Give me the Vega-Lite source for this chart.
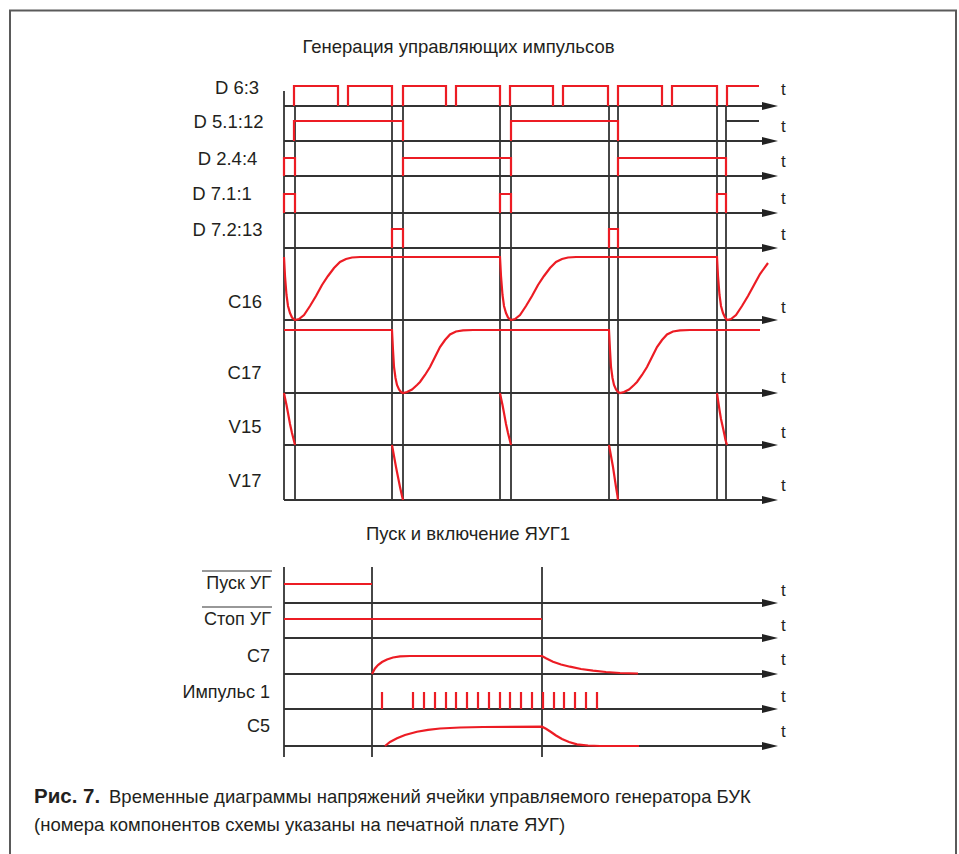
{
  "$schema": "https://vega.github.io/schema/vega-lite/v6.json",
  "width": 959,
  "height": 854,
  "autosize": {"type": "none"},
  "padding": 0,
  "background": "white",
  "config": {"view": {"stroke": null}},
  "datasets": {
    "frame": [{"x":10,"y":870},{"x":10,"y":10.5},{"x":956,"y":10.5},{"x":956,"y":870}],
    "rules": [
      {"x":284,"x2":768,"y":106,"y2":106},{"x":284,"x2":768,"y":141,"y2":141},{"x":284,"x2":768,"y":176,"y2":176},
      {"x":284,"x2":768,"y":213,"y2":213},{"x":284,"x2":768,"y":248,"y2":248},{"x":284,"x2":768,"y":320,"y2":320},
      {"x":284,"x2":768,"y":393,"y2":393},{"x":284,"x2":768,"y":445,"y2":445},{"x":284,"x2":768,"y":500,"y2":500},
      {"x":284,"x2":768,"y":603,"y2":603},{"x":284,"x2":768,"y":638,"y2":638},{"x":284,"x2":768,"y":674,"y2":674},
      {"x":284,"x2":768,"y":709,"y2":709},{"x":284,"x2":768,"y":746,"y2":746},
      {"x":284,"x2":284,"y":91,"y2":500},
      {"x":295,"x2":295,"y":106,"y2":500},{"x":392,"x2":392,"y":106,"y2":500},{"x":403,"x2":403,"y":106,"y2":500},
      {"x":500,"x2":500,"y":106,"y2":500},{"x":511,"x2":511,"y":106,"y2":500},{"x":609,"x2":609,"y":106,"y2":500},
      {"x":618,"x2":618,"y":106,"y2":500},{"x":717,"x2":717,"y":106,"y2":500},{"x":726,"x2":726,"y":106,"y2":500},
      {"x":726,"x2":759,"y":121,"y2":121},
      {"x":284,"x2":284,"y":567,"y2":757},{"x":372,"x2":372,"y":567,"y2":757},{"x":542,"x2":542,"y":567,"y2":757}
    ],
    "overlines": [{"x":202,"x2":272,"y":571,"y2":571},{"x":202,"x2":272,"y":607,"y2":607}],
    "arrows": [
      {"x":770,"y":106},{"x":770,"y":141},{"x":770,"y":176},{"x":770,"y":213},{"x":770,"y":248},
      {"x":770,"y":320},{"x":770,"y":393},{"x":770,"y":445},{"x":770,"y":500},
      {"x":770,"y":603},{"x":770,"y":638},{"x":770,"y":674},{"x":770,"y":709},{"x":770,"y":746}
    ],
    "spikes": [
      {"x":382,"y":709,"y2":692},{"x":413,"y":709,"y2":692},{"x":424,"y":709,"y2":692},{"x":435,"y":709,"y2":692},
      {"x":446,"y":709,"y2":692},{"x":456,"y":709,"y2":692},{"x":467,"y":709,"y2":692},{"x":478,"y":709,"y2":692},
      {"x":489,"y":709,"y2":692},{"x":500,"y":709,"y2":692},{"x":510,"y":709,"y2":692},{"x":521,"y":709,"y2":692},
      {"x":532,"y":709,"y2":692},{"x":543,"y":709,"y2":692},{"x":554,"y":709,"y2":692},{"x":564,"y":709,"y2":692},
      {"x":575,"y":709,"y2":692},{"x":586,"y":709,"y2":692},{"x":597,"y":709,"y2":692}
    ],
    "sig": [
      {"s":"d6a","x":294,"y":106},{"s":"d6a","x":294,"y":86},{"s":"d6a","x":338,"y":86},{"s":"d6a","x":338,"y":106},
      {"s":"d6b","x":348,"y":106},{"s":"d6b","x":348,"y":86},{"s":"d6b","x":392,"y":86},{"s":"d6b","x":392,"y":106},
      {"s":"d6c","x":403,"y":106},{"s":"d6c","x":403,"y":86},{"s":"d6c","x":446,"y":86},{"s":"d6c","x":446,"y":106},
      {"s":"d6d","x":456,"y":106},{"s":"d6d","x":456,"y":86},{"s":"d6d","x":500,"y":86},{"s":"d6d","x":500,"y":106},
      {"s":"d6e","x":510,"y":106},{"s":"d6e","x":510,"y":86},{"s":"d6e","x":553,"y":86},{"s":"d6e","x":553,"y":106},
      {"s":"d6f","x":563,"y":106},{"s":"d6f","x":563,"y":86},{"s":"d6f","x":608,"y":86},{"s":"d6f","x":608,"y":106},
      {"s":"d6g","x":618,"y":106},{"s":"d6g","x":618,"y":86},{"s":"d6g","x":662,"y":86},{"s":"d6g","x":662,"y":106},
      {"s":"d6h","x":672,"y":106},{"s":"d6h","x":672,"y":86},{"s":"d6h","x":717,"y":86},{"s":"d6h","x":717,"y":106},
      {"s":"d6i","x":727,"y":106},{"s":"d6i","x":727,"y":86},{"s":"d6i","x":759,"y":86},
      {"s":"d5a","x":294,"y":141},{"s":"d5a","x":294,"y":121},{"s":"d5a","x":403,"y":121},{"s":"d5a","x":403,"y":141},
      {"s":"d5b","x":511,"y":141},{"s":"d5b","x":511,"y":121},{"s":"d5b","x":618,"y":121},{"s":"d5b","x":618,"y":141},
      {"s":"d2a","x":284,"y":176},{"s":"d2a","x":284,"y":158},{"s":"d2a","x":295,"y":158},{"s":"d2a","x":295,"y":176},
      {"s":"d2b","x":403,"y":176},{"s":"d2b","x":403,"y":158},{"s":"d2b","x":511,"y":158},{"s":"d2b","x":511,"y":176},
      {"s":"d2c","x":618,"y":176},{"s":"d2c","x":618,"y":158},{"s":"d2c","x":726,"y":158},{"s":"d2c","x":726,"y":176},
      {"s":"d71a","x":284,"y":213},{"s":"d71a","x":284,"y":194},{"s":"d71a","x":295,"y":194},{"s":"d71a","x":295,"y":213},
      {"s":"d71b","x":500,"y":213},{"s":"d71b","x":500,"y":194},{"s":"d71b","x":511,"y":194},{"s":"d71b","x":511,"y":213},
      {"s":"d71c","x":717,"y":213},{"s":"d71c","x":717,"y":194},{"s":"d71c","x":726,"y":194},{"s":"d71c","x":726,"y":213},
      {"s":"d72a","x":392,"y":248},{"s":"d72a","x":392,"y":229},{"s":"d72a","x":403,"y":229},{"s":"d72a","x":403,"y":248},
      {"s":"d72b","x":609,"y":248},{"s":"d72b","x":609,"y":229},{"s":"d72b","x":618,"y":229},{"s":"d72b","x":618,"y":248},
      {"s":"c16","x":284,"y":257},{"s":"c16","x":285,"y":276},{"s":"c16","x":286.5,"y":295},{"s":"c16","x":288,"y":306},
      {"s":"c16","x":290,"y":313},{"s":"c16","x":292,"y":317.5},{"s":"c16","x":295,"y":320},{"s":"c16","x":299,"y":319},
      {"s":"c16","x":304,"y":315},{"s":"c16","x":310,"y":306},{"s":"c16","x":316,"y":296},{"s":"c16","x":322,"y":285},
      {"s":"c16","x":328,"y":276},{"s":"c16","x":334,"y":268},{"s":"c16","x":340,"y":262},{"s":"c16","x":346,"y":259},
      {"s":"c16","x":352,"y":257.5},{"s":"c16","x":360,"y":257},{"s":"c16","x":500,"y":257},{"s":"c16","x":501,"y":276},
      {"s":"c16","x":502.5,"y":295},{"s":"c16","x":504,"y":306},{"s":"c16","x":506,"y":313},{"s":"c16","x":508,"y":317.5},
      {"s":"c16","x":511,"y":320},{"s":"c16","x":515,"y":319},{"s":"c16","x":520,"y":315},{"s":"c16","x":526,"y":306},
      {"s":"c16","x":532,"y":296},{"s":"c16","x":538,"y":285},{"s":"c16","x":544,"y":276},{"s":"c16","x":550,"y":268},
      {"s":"c16","x":556,"y":262},{"s":"c16","x":562,"y":259},{"s":"c16","x":568,"y":257.5},{"s":"c16","x":576,"y":257},
      {"s":"c16","x":717,"y":257},{"s":"c16","x":718,"y":276},{"s":"c16","x":719.5,"y":295},{"s":"c16","x":721,"y":306},
      {"s":"c16","x":723,"y":313},{"s":"c16","x":725,"y":317.5},{"s":"c16","x":727,"y":320},{"s":"c16","x":731,"y":319},
      {"s":"c16","x":736,"y":315},{"s":"c16","x":742,"y":306},{"s":"c16","x":748,"y":296},{"s":"c16","x":754,"y":285},
      {"s":"c16","x":760,"y":274},{"s":"c16","x":768,"y":263},
      {"s":"c17","x":284,"y":330},{"s":"c17","x":392,"y":330},{"s":"c17","x":393,"y":350},{"s":"c17","x":394,"y":367},
      {"s":"c17","x":395.5,"y":378},{"s":"c17","x":397,"y":385},{"s":"c17","x":399,"y":389.5},{"s":"c17","x":401,"y":392},
      {"s":"c17","x":403,"y":393},{"s":"c17","x":407,"y":392},{"s":"c17","x":412,"y":389.5},{"s":"c17","x":417,"y":385},
      {"s":"c17","x":420,"y":382},{"s":"c17","x":425,"y":375},{"s":"c17","x":430,"y":367},{"s":"c17","x":435,"y":357},
      {"s":"c17","x":440,"y":347},{"s":"c17","x":445,"y":340},{"s":"c17","x":450,"y":334.5},{"s":"c17","x":456,"y":331.5},
      {"s":"c17","x":463,"y":330.3},{"s":"c17","x":473,"y":330},{"s":"c17","x":609,"y":330},{"s":"c17","x":610,"y":350},
      {"s":"c17","x":611,"y":367},{"s":"c17","x":612.5,"y":378},{"s":"c17","x":614,"y":385},{"s":"c17","x":616,"y":389.5},
      {"s":"c17","x":618,"y":392},{"s":"c17","x":620,"y":393},{"s":"c17","x":624,"y":392},{"s":"c17","x":629,"y":389.5},
      {"s":"c17","x":634,"y":385},{"s":"c17","x":637,"y":382},{"s":"c17","x":642,"y":375},{"s":"c17","x":647,"y":367},
      {"s":"c17","x":652,"y":357},{"s":"c17","x":657,"y":347},{"s":"c17","x":662,"y":340},{"s":"c17","x":667,"y":334.5},
      {"s":"c17","x":673,"y":331.5},{"s":"c17","x":680,"y":330.3},{"s":"c17","x":690,"y":330},{"s":"c17","x":760,"y":330},
      {"s":"v15a","x":284,"y":393},{"s":"v15a","x":285,"y":398},{"s":"v15a","x":286.5,"y":405},{"s":"v15a","x":288,"y":413},
      {"s":"v15a","x":290,"y":424},{"s":"v15a","x":292,"y":433},{"s":"v15a","x":293.5,"y":439},{"s":"v15a","x":295,"y":445},
      {"s":"v15b","x":500,"y":393},{"s":"v15b","x":501,"y":398},{"s":"v15b","x":502.5,"y":405},{"s":"v15b","x":504,"y":413},
      {"s":"v15b","x":506,"y":424},{"s":"v15b","x":508,"y":433},{"s":"v15b","x":509.5,"y":439},{"s":"v15b","x":511,"y":445},
      {"s":"v15c","x":717,"y":393},{"s":"v15c","x":718,"y":400},{"s":"v15c","x":719.5,"y":410},{"s":"v15c","x":721,"y":419},
      {"s":"v15c","x":723,"y":428},{"s":"v15c","x":724.5,"y":435},{"s":"v15c","x":725.5,"y":440},{"s":"v15c","x":727,"y":445},
      {"s":"v17a","x":392,"y":445},{"s":"v17a","x":394,"y":456},{"s":"v17a","x":396,"y":467},{"s":"v17a","x":398,"y":477},
      {"s":"v17a","x":400,"y":487},{"s":"v17a","x":402,"y":496},{"s":"v17a","x":403,"y":500},
      {"s":"v17b","x":609,"y":445},{"s":"v17b","x":611,"y":456},{"s":"v17b","x":613,"y":467},{"s":"v17b","x":614.5,"y":477},
      {"s":"v17b","x":616,"y":487},{"s":"v17b","x":617.5,"y":496},{"s":"v17b","x":618,"y":500},
      {"s":"pusk","x":284,"y":584},{"s":"pusk","x":372,"y":584},
      {"s":"stop","x":284,"y":619},{"s":"stop","x":542,"y":619},
      {"s":"c7","x":372,"y":674},{"s":"c7","x":375,"y":668.5},{"s":"c7","x":378,"y":665},{"s":"c7","x":382,"y":662},
      {"s":"c7","x":387,"y":659.5},{"s":"c7","x":393,"y":657.5},{"s":"c7","x":400,"y":656.3},{"s":"c7","x":410,"y":656},
      {"s":"c7","x":542,"y":656},{"s":"c7","x":546,"y":658.3},{"s":"c7","x":553,"y":661.7},{"s":"c7","x":561,"y":664.5},
      {"s":"c7","x":570,"y":666.7},{"s":"c7","x":581,"y":669},{"s":"c7","x":593,"y":670.7},{"s":"c7","x":606,"y":672},
      {"s":"c7","x":620,"y":673},{"s":"c7","x":638,"y":673.5},
      {"s":"c5","x":385,"y":746},{"s":"c5","x":390,"y":742},{"s":"c5","x":397,"y":738.3},{"s":"c5","x":405,"y":735},
      {"s":"c5","x":417,"y":731.7},{"s":"c5","x":428,"y":729.8},{"s":"c5","x":440,"y":728.5},{"s":"c5","x":460,"y":727.5},
      {"s":"c5","x":483,"y":727},{"s":"c5","x":542,"y":726.7},{"s":"c5","x":546,"y":728.8},{"s":"c5","x":551,"y":732},
      {"s":"c5","x":556,"y":735.5},{"s":"c5","x":562,"y":739},{"s":"c5","x":569,"y":742},{"s":"c5","x":577,"y":744.3},
      {"s":"c5","x":588,"y":745.5},{"s":"c5","x":600,"y":746},{"s":"c5","x":639,"y":746}
    ],
    "labels": [
      {"x":237,"y":88,"t":"D 6:3"},{"x":228.5,"y":122,"t":"D 5.1:12"},{"x":227.5,"y":159,"t":"D 2.4:4"},
      {"x":222,"y":194,"t":"D 7.1:1"},{"x":227.5,"y":230,"t":"D 7.2:13"},{"x":245,"y":302,"t":"C16"},
      {"x":244.5,"y":373,"t":"C17"},{"x":245,"y":427,"t":"V15"},{"x":245,"y":481,"t":"V17"},
      {"x":458.5,"y":47,"t":"Генерация управляющих импульсов"},{"x":468,"y":534,"t":"Пуск и включение ЯУГ1"}
    ],
    "rlabels": [
      {"x":271,"y":584,"t":"Пуск УГ"},{"x":271,"y":620,"t":"Стоп УГ"},{"x":270,"y":657,"t":"C7"},
      {"x":270,"y":693,"t":"Импульс 1"},{"x":270,"y":727,"t":"C5"}
    ],
    "tlabels": [
      {"x":781,"y":90,"t":"t"},{"x":781,"y":127,"t":"t"},{"x":781,"y":162,"t":"t"},{"x":781,"y":199,"t":"t"},
      {"x":781,"y":235,"t":"t"},{"x":781,"y":308,"t":"t"},{"x":781,"y":378,"t":"t"},{"x":781,"y":433,"t":"t"},
      {"x":781,"y":486,"t":"t"},{"x":781,"y":591,"t":"t"},{"x":781,"y":626,"t":"t"},{"x":781,"y":660,"t":"t"},
      {"x":781,"y":697,"t":"t"},{"x":781,"y":732,"t":"t"}
    ],
    "capbold": [{"x":34,"y":797,"t":"Рис. 7."}],
    "cap": [
      {"x":109,"y":797,"t":"Временные диаграммы напряжений ячейки управляемого генератора БУК"},
      {"x":34,"y":825,"t":"(номера компонентов схемы указаны на печатной плате ЯУГ)"}
    ]
  },
  "encoding": {
    "x": {"field": "x", "type": "quantitative", "scale": {"domain": [0, 959], "nice": false, "zero": false}, "axis": null},
    "y": {"field": "y", "type": "quantitative", "scale": {"domain": [0, 854], "nice": false, "zero": false, "reverse": true}, "axis": null}
  },
  "layer": [
    {"data": {"name": "frame"}, "mark": {"type": "line", "color": "#5a5a5a", "strokeWidth": 2}, "encoding": {"order": {"value": null}}},
    {"data": {"name": "rules"}, "mark": {"type": "rule", "color": "#333333", "strokeWidth": 1.8},
     "encoding": {"x2": {"field": "x2"}, "y2": {"field": "y2"}}},
    {"data": {"name": "overlines"}, "mark": {"type": "rule", "color": "#333333", "strokeWidth": 1.2},
     "encoding": {"x2": {"field": "x2"}, "y2": {"field": "y2"}}},
    {"data": {"name": "arrows"}, "mark": {"type": "point", "shape": "M-1,-0.5L1,0L-1,0.5Z", "filled": true, "size": 256, "color": "#222222", "opacity": 1, "strokeWidth": 0}},
    {"data": {"name": "sig"}, "mark": {"type": "line", "color": "#ec1c24", "strokeWidth": 2.2, "strokeJoin": "miter"},
     "encoding": {"detail": {"field": "s"}, "order": {"value": null}}},
    {"data": {"name": "spikes"}, "mark": {"type": "rule", "color": "#ec1c24", "strokeWidth": 2.2},
     "encoding": {"y2": {"field": "y2"}}},
    {"data": {"name": "labels"}, "mark": {"type": "text", "align": "center", "baseline": "middle", "font": "Liberation Sans", "fontSize": 18.5, "color": "#231f20"},
     "encoding": {"text": {"field": "t"}}},
    {"data": {"name": "rlabels"}, "mark": {"type": "text", "align": "right", "baseline": "middle", "font": "Liberation Sans", "fontSize": 18, "color": "#231f20"},
     "encoding": {"text": {"field": "t"}}},
    {"data": {"name": "tlabels"}, "mark": {"type": "text", "align": "left", "baseline": "middle", "font": "Liberation Sans", "fontSize": 17, "color": "#231f20"},
     "encoding": {"text": {"field": "t"}}},
    {"data": {"name": "capbold"}, "mark": {"type": "text", "align": "left", "baseline": "middle", "font": "Liberation Sans", "fontWeight": "bold", "fontSize": 20.5, "color": "#231f20"},
     "encoding": {"text": {"field": "t"}}},
    {"data": {"name": "cap"}, "mark": {"type": "text", "align": "left", "baseline": "middle", "font": "Liberation Sans", "fontSize": 18.5, "color": "#231f20"},
     "encoding": {"text": {"field": "t"}}}
  ]
}
